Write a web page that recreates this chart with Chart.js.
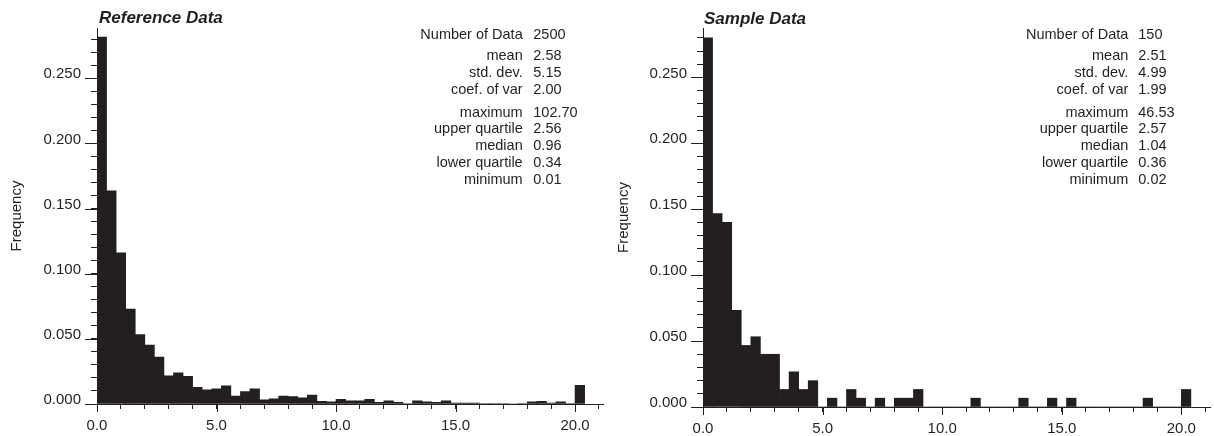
<!DOCTYPE html>
<html>
<head>
<meta charset="utf-8">
<title>Histograms</title>
<script src="https://cdn.jsdelivr.net/npm/chart.js@4.4.0/dist/chart.umd.min.js"></script>
<style>
  body { margin: 0; background: #fff; font-family: "Liberation Sans", Arial, sans-serif; color: #231f20; }
  #page { position: relative; width: 1214px; height: 436px; overflow: hidden; }
  .panel { position: absolute; top: 0; width: 607px; height: 436px; }
  .panel .box { position: absolute; left: 0; top: 0; width: 607px; height: 436px; }
  .title { position: absolute; font-weight: bold; font-style: italic; font-size: 17px; line-height: 17px; white-space: nowrap; }
  .stat { position: absolute; font-size: 14.5px; line-height: 14.5px; white-space: nowrap; }
</style>
</head>
<body>
<div id="page">
  <div class="panel" id="leftPanel" style="left:0">
    <div class="box"><canvas id="refChart"></canvas></div>
    <div class="title" style="left:99px;top:9px">Reference Data</div>
  </div>
  <div class="panel" id="rightPanel" style="left:607px">
    <div class="box"><canvas id="sampleChart"></canvas></div>
    <div class="title" style="left:97px;top:10px">Sample Data</div>
  </div>
</div>
<script>
// bins are 0.4 wide, the last one (20.0) collects everything above
const binWidth = 0.4;
const binStarts = [
  0.0, 0.4, 0.8, 1.2, 1.6, 2.0, 2.4, 2.8, 3.2, 3.6,
  4.0, 4.4, 4.8, 5.2, 5.6, 6.0, 6.4, 6.8, 7.2, 7.6,
  8.0, 8.4, 8.8, 9.2, 9.6, 10.0, 10.4, 10.8, 11.2, 11.6,
  12.0, 12.4, 12.8, 13.2, 13.6, 14.0, 14.4, 14.8, 15.2, 15.6,
  16.0, 16.4, 16.8, 17.2, 17.6, 18.0, 18.4, 18.8, 19.2, 19.6,
  20.0
];

const refFreq = [
  0.2816, 0.1636, 0.1160, 0.0728, 0.0532, 0.0452, 0.0360, 0.0216, 0.0240, 0.0212,
  0.0128, 0.0108, 0.0116, 0.0140, 0.0060, 0.0096, 0.0116, 0.0032, 0.0040, 0.0060,
  0.0056, 0.0048, 0.0068, 0.0020, 0.0016, 0.0036, 0.0024, 0.0024, 0.0036, 0.0012,
  0.0024, 0.0012, 0.0004, 0.0024, 0.0016, 0.0012, 0.0024, 0.0008, 0.0008, 0.0008,
  0.0004, 0.0004, 0.0004, 0.0000, 0.0004, 0.0016, 0.0020, 0.0008, 0.0016, 0.0004,
  0.0144
];

const sampleFreq = [
  0.2800, 0.1467, 0.1400, 0.0733, 0.0467, 0.0533, 0.0400, 0.0400, 0.0133, 0.0267,
  0.0133, 0.0200, 0.0000, 0.0067, 0.0000, 0.0133, 0.0067, 0.0000, 0.0067, 0.0000,
  0.0067, 0.0067, 0.0133, 0.0000, 0.0000, 0.0000, 0.0000, 0.0000, 0.0067, 0.0000,
  0.0000, 0.0000, 0.0000, 0.0067, 0.0000, 0.0000, 0.0067, 0.0000, 0.0067, 0.0000,
  0.0000, 0.0000, 0.0000, 0.0000, 0.0000, 0.0000, 0.0067, 0.0000, 0.0000, 0.0000,
  0.0133
];

const statLabels = ['Number of Data', 'mean', 'std. dev.', 'coef. of var',
  'maximum', 'upper quartile', 'median', 'lower quartile', 'minimum'];
const refStats = ['2500', '2.58', '5.15', '2.00', '102.70', '2.56', '0.96', '0.34', '0.01'];
const sampleStats = ['150', '2.51', '4.99', '1.99', '46.53', '2.57', '1.04', '0.36', '0.02'];

const ink = '#231f20';
const statRowY = [34.5, 55.3, 72, 89.5, 112, 128.7, 145.3, 162.2, 178.8];

Chart.defaults.font.family = '"Liberation Sans", Arial, sans-serif';
Chart.defaults.color = ink;

// longer marks at the labelled ticks
const majorTicks = {
  id: 'majorTicks',
  afterDraw(chart) {
    const { ctx, chartArea: a, scales: { x, y } } = chart;
    ctx.save();
    ctx.strokeStyle = ink;
    ctx.lineWidth = 1;
    ctx.beginPath();
    y.ticks.forEach(t => {
      if (Math.round(t.value * 100) % 5 !== 0) return;
      const py = Math.round(y.getPixelForValue(t.value)) + 0.5;
      ctx.moveTo(a.left - 12, py);
      ctx.lineTo(a.left, py);
    });
    x.ticks.forEach(t => {
      if (Math.round(t.value) % 5 !== 0) return;
      const px = Math.round(x.getPixelForValue(t.value)) + 0.5;
      ctx.moveTo(px, a.bottom);
      ctx.lineTo(px, a.bottom + 8);
    });
    ctx.stroke();
    ctx.restore();
  }
};

function histogram(canvasId, freqs, cfg) {
  const points = binStarts.map((s, i) => ({ x: s + binWidth / 2, y: freqs[i] }));
  return new Chart(document.getElementById(canvasId), {
    type: 'bar',
    data: {
      datasets: [{
        data: points,
        backgroundColor: ink,
        borderWidth: 0,
        barPercentage: 1,
        categoryPercentage: 1
      }]
    },
    options: {
      responsive: true, maintainAspectRatio: false, animation: false,
      layout: { padding: { top: 28, right: cfg.rightPad, left: 0, bottom: 0 } },
      plugins: { legend: { display: false }, tooltip: { enabled: false } },
      scales: {
        x: {
          type: 'linear', min: 0, max: 21.2, offset: false,
          border: { color: ink, width: 1 },
          grid: { offset: false, drawOnChartArea: false, tickLength: 5, color: ink },
          ticks: {
            stepSize: 1, includeBounds: false, autoSkip: false, maxRotation: 0, padding: 8,
            font: { size: 15 },
            callback: v => (Math.round(v) % 5 === 0 ? v.toFixed(1) : '')
          },
          afterFit: s => { s.height = 436 - cfg.bottom; }
        },
        y: {
          min: 0, max: cfg.ymax,
          border: { color: ink, width: 1 },
          grid: { drawOnChartArea: false, tickLength: 6, color: ink },
          ticks: {
            stepSize: 0.01, includeBounds: false, autoSkip: false, padding: 10, labelOffset: -4,
            font: { size: 15 },
            callback: v => (Math.round(v * 100) % 5 === 0 ? v.toFixed(3) : '')
          },
          title: { display: true, text: 'Frequency', font: { size: 15 }, padding: { top: 8, bottom: 0 } },
          afterFit: s => { s.width = cfg.axisLeft; }
        }
      }
    },
    plugins: [majorTicks]
  });
}

function statsBlock(panelId, values, labelRight, valueLeft) {
  const panel = document.getElementById(panelId);
  statLabels.forEach((label, i) => {
    const top = (statRowY[i] - 7.25) + 'px';
    const k = document.createElement('div');
    k.className = 'stat';
    k.style.right = (607 - labelRight) + 'px';
    k.style.top = top;
    k.textContent = label;
    const v = document.createElement('div');
    v.className = 'stat';
    v.style.left = valueLeft + 'px';
    v.style.top = top;
    v.textContent = values[i];
    panel.appendChild(k);
    panel.appendChild(v);
  });
}

histogram('refChart', refFreq, { axisLeft: 97, bottom: 404, ymax: 0.2886, rightPad: 1 });
histogram('sampleChart', sampleFreq, { axisLeft: 96, bottom: 407, ymax: 0.2875, rightPad: 4 });
statsBlock('leftPanel', refStats, 522.7, 533.3);
statsBlock('rightPanel', sampleStats, 521.3, 531.3);
</script>
</body>
</html>
